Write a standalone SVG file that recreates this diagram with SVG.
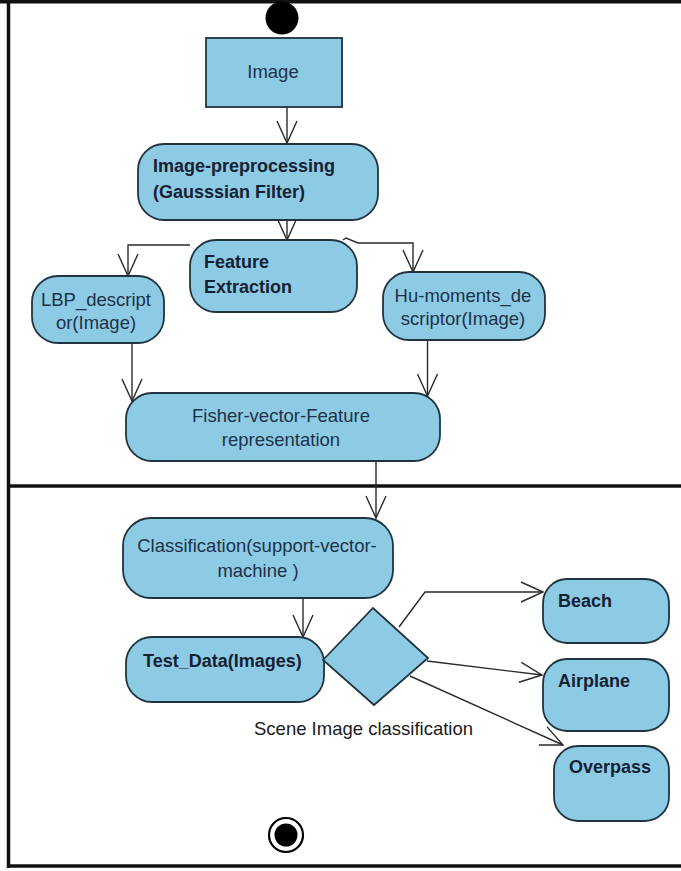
<svg xmlns="http://www.w3.org/2000/svg" width="681" height="871" viewBox="0 0 681 871">
  <style>
    .frame { stroke: #111; stroke-width: 3.5; fill: none; }
    .node { fill: #8dcbe5; stroke: #1f3440; stroke-width: 1.8; }
    .txt { font-family: "Liberation Sans", Arial, sans-serif; font-size: 18.5px; fill: #1d3249; }
    .bold { font-weight: bold; font-size: 18px; fill: #152133; }
    .mid { text-anchor: middle; }
    .edge { fill: none; stroke: #2a2a2a; stroke-width: 1.4; }
  </style>
  <defs>
    <marker id="open" markerUnits="userSpaceOnUse" markerWidth="26" markerHeight="26" viewBox="-24 -13 26 26" refX="0" refY="0" orient="auto">
      <path d="M -22 -10 L 0 0 L -22 10" fill="none" stroke="#2a2a2a" stroke-width="1.4"/>
    </marker>
  </defs>

  <rect width="681" height="871" fill="#fff"/>

  <!-- swimlane frame -->
  <g id="frame">
    <line class="frame" x1="0" y1="1.8" x2="681" y2="1.8"/>
    <line class="frame" x1="8.5" y1="0" x2="8.5" y2="868"/>
    <line class="frame" x1="7" y1="486" x2="681" y2="486" stroke-width="4.5"/>
    <line class="frame" x1="7" y1="866" x2="681" y2="866"/>
  </g>

  <!-- connectors -->
  <g id="connectors">
    <line class="edge" x1="287" y1="107" x2="287" y2="143" marker-end="url(#open)"/>
    <line class="edge" x1="287" y1="220" x2="287" y2="240" marker-end="url(#open)"/>
    <polyline class="edge" points="190,245 128,245 128,276" marker-end="url(#open)"/>
    <polyline class="edge" points="343,240 346,238 358,243 413,243 413,272" marker-end="url(#open)"/>
    <line class="edge" x1="132" y1="343" x2="132" y2="401" marker-end="url(#open)"/>
    <line class="edge" x1="427.5" y1="340" x2="427.5" y2="396" marker-end="url(#open)"/>
    <line class="edge" x1="376" y1="461" x2="376" y2="518" marker-end="url(#open)"/>
    <line class="edge" x1="303" y1="598" x2="303" y2="637" marker-end="url(#open)"/>
    <polyline class="edge" points="399,627 425,592 543,592" marker-end="url(#open)"/>
    <line class="edge" x1="427" y1="661" x2="542" y2="675" marker-end="url(#open)"/>
    <line class="edge" x1="410" y1="676" x2="563" y2="745" marker-end="url(#open)"/>
  </g>

  <g id="start">
    <circle cx="282" cy="18" r="16.5" fill="#000"/>
  </g>

  <g id="image">
    <rect class="node" x="206" y="38" width="136" height="69" stroke-width="1.5"/>
    <text class="txt mid" x="273" y="78">Image</text>
  </g>

  <g id="preprocessing">
    <rect class="node" x="138" y="144" width="240" height="76" rx="26"/>
    <text class="txt bold" x="153" y="172">Image-preprocessing</text>
    <text class="txt bold" x="153" y="198">(Gausssian Filter)</text>
  </g>

  <g id="feature-extraction">
    <rect class="node" x="190" y="240" width="167" height="72" rx="26"/>
    <text class="txt bold" x="204" y="268">Feature</text>
    <text class="txt bold" x="204" y="293">Extraction</text>
  </g>

  <g id="lbp">
    <rect class="node" x="32" y="276" width="132" height="67" rx="26"/>
    <text class="txt mid" x="96" y="306">LBP_descript</text>
    <text class="txt mid" x="96" y="329">or(Image)</text>
  </g>

  <g id="hu-moments">
    <rect class="node" x="383" y="272" width="162" height="68" rx="26"/>
    <text class="txt mid" x="463" y="302">Hu-moments_de</text>
    <text class="txt mid" x="463" y="325">scriptor(Image)</text>
  </g>

  <g id="fisher">
    <rect class="node" x="126" y="393" width="314" height="68" rx="26"/>
    <text class="txt mid" x="281" y="422">Fisher-vector-Feature</text>
    <text class="txt mid" x="281" y="446">representation</text>
  </g>

  <g id="classification">
    <rect class="node" x="123" y="518" width="270" height="80" rx="28"/>
    <text class="txt mid" x="257" y="552">Classification(support-vector-</text>
    <text class="txt mid" x="258" y="577">machine )</text>
  </g>

  <g id="test-data">
    <rect class="node" x="126" y="637" width="198" height="65" rx="26"/>
    <text class="txt bold" x="143" y="667">Test_Data(Images)</text>
  </g>

  <g id="decision">
    <polygon class="node" points="323,660 373,608 428,658 374,705"/>
    <text class="txt" x="254" y="735" style="fill:#1a1a1a">Scene Image classification</text>
  </g>

  <g id="beach">
    <rect class="node" x="543" y="579" width="126" height="64" rx="24"/>
    <text class="txt bold" x="558" y="607">Beach</text>
  </g>

  <g id="airplane">
    <rect class="node" x="543" y="659" width="126" height="72" rx="24"/>
    <text class="txt bold" x="558" y="687">Airplane</text>
  </g>

  <g id="overpass">
    <rect class="node" x="554" y="746" width="115" height="75" rx="24"/>
    <text class="txt bold" x="569" y="773">Overpass</text>
  </g>

  <g id="end">
    <circle cx="286" cy="835" r="17" fill="#fff" stroke="#000" stroke-width="2.2"/>
    <circle cx="286" cy="835" r="11.5" fill="#000"/>
  </g>
</svg>
